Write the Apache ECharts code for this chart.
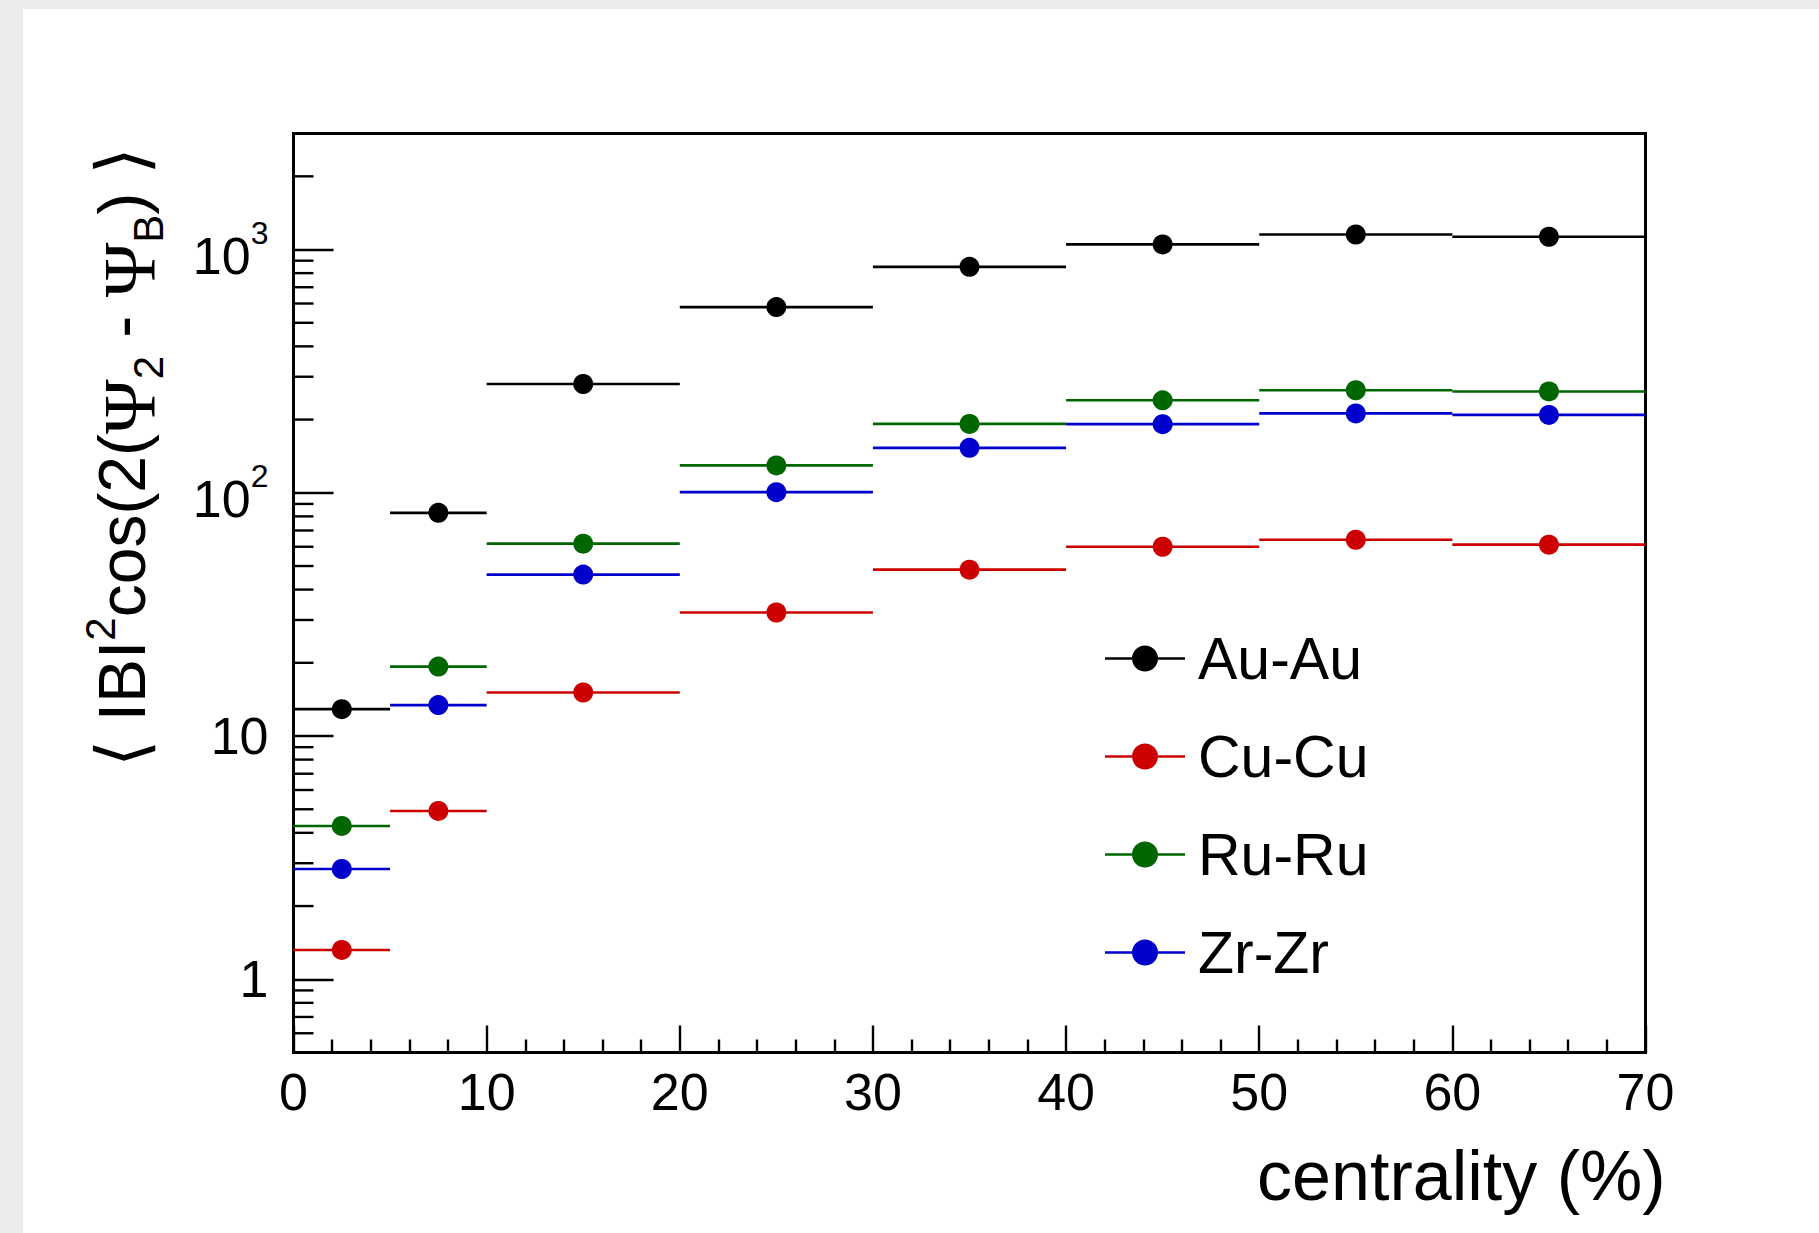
<!DOCTYPE html>
<html>
<head>
<meta charset="utf-8">
<script src="https://cdn.jsdelivr.net/npm/echarts@6/dist/echarts.min.js"></script>
<style>
html,body{margin:0;padding:0;background:#ffffff;}
#chart{width:1819px;height:1233px;}
</style>
</head>
<body>
<div id="chart"></div>
<script>
// ---- data ----
const binLow    = [0, 5, 10, 20, 30, 40, 50, 60];
const binHigh   = [5, 10, 20, 30, 40, 50, 60, 70];
const binCenter = [2.5, 7.5, 15, 25, 35, 45, 55, 65];
const auau = [12.9, 82.7, 280, 580, 849, 1050, 1153, 1129];
const cucu = [1.32, 4.92, 15.1, 32.2, 48.3, 60.0, 64.1, 61.2];
const ruru = [4.27, 19.3, 61.8, 129.6, 192, 240, 264, 261];
const zrzr = [2.84, 13.4, 46.1, 100.6, 153, 191.5, 212, 209];
const seriesNames  = ['Au-Au', 'Cu-Cu', 'Ru-Ru', 'Zr-Zr'];
const seriesValues = [auau, cucu, ruru, zrzr];
const seriesColors = ['#000000', '#cc0000', '#006600', '#0000cc'];
const yMinorTicks = [0.6, 0.7, 0.8, 0.9,
  2, 3, 4, 5, 6, 7, 8, 9,
  20, 30, 40, 50, 60, 70, 80, 90,
  200, 300, 400, 500, 600, 700, 800, 900,
  2000];

const FONT = 'Liberation Sans, Arial, Helvetica, sans-serif';

const chart = echarts.init(document.getElementById('chart'), null, {renderer: 'svg'});

function dataSeries(i) {
  const vals = seriesValues[i];
  const color = seriesColors[i];
  return {
    type: 'custom',
    name: seriesNames[i],
    itemStyle: {color: color},
    encode: {x: [0, 1, 2], y: 3},
    data: vals.map((v, k) => [binLow[k], binHigh[k], binCenter[k], v]),
    renderItem: function (params, api) {
      const y = api.value(3);
      const lo = api.coord([api.value(0), y]);
      const hi = api.coord([api.value(1), y]);
      const c = api.coord([api.value(2), y]);
      return {
        type: 'group',
        children: [
          {type: 'line', shape: {x1: lo[0], y1: lo[1], x2: hi[0], y2: hi[1]},
           style: {stroke: color, lineWidth: 2.6}},
          {type: 'circle', shape: {cx: c[0], cy: c[1], r: 10},
           style: {fill: color}}
        ]
      };
    }
  };
}

const minorTickSeries = {
  type: 'custom',
  name: 'yminor',
  silent: true,
  encode: {x: 0, y: 1},
  data: yMinorTicks.map(v => [0, v]),
  renderItem: function (params, api) {
    const p = api.coord([api.value(0), api.value(1)]);
    return {type: 'line', shape: {x1: p[0], y1: p[1], x2: p[0] + 20, y2: p[1]},
            style: {stroke: '#000', lineWidth: 2.4}};
  }
};

const legendIcon = 'path://M0 11.7H27V14.3H0Z M53 11.7H80V14.3H53Z M27 13A13 13 0 1 1 53 13A13 13 0 1 1 27 13Z';

const yTitle = '{br|⟨} {n|IBI}{sup|2}{n|cos(2(}{psi|Ψ}{sub|2}{n| - }{psi|Ψ}{sub|B}{n|)} {br|⟩}';

const option = {
  animation: false,
  backgroundColor: '#ffffff',
  textStyle: {fontFamily: FONT},
  grid: {
    left: 293.5, right: 173.5, top: 133.5, bottom: 180.5,
    show: true, borderColor: '#000', borderWidth: 3,
    containLabel: false, outerBoundsMode: 'none'
  },
  legend: {
    orient: 'vertical',
    left: 1100, top: 624,
    itemWidth: 80, itemHeight: 26, itemGap: 39,
    textStyle: {fontSize: 59, fontFamily: FONT, color: '#000', padding: [0, 0, 0, 8]},
    data: seriesNames.map(n => ({name: n, icon: legendIcon}))
  },
  xAxis: {
    type: 'value', min: 0, max: 70, interval: 10,
    name: 'centrality (%)', nameLocation: 'end', nameGap: 20,
    nameTextStyle: {fontSize: 70, fontFamily: FONT, color: '#000',
      align: 'right', verticalAlign: 'top', padding: [88, 0, 0, 0]},
    axisLine: {show: true, lineStyle: {color: '#000', width: 3}},
    axisTick: {show: true, inside: true, length: 27, lineStyle: {color: '#000', width: 2.4}},
    minorTick: {show: true, splitNumber: 5, length: 13, lineStyle: {color: '#000', width: 2.4}},
    axisLabel: {fontSize: 52, fontFamily: FONT, color: '#000', margin: 13},
    splitLine: {show: false}
  },
  yAxis: {
    type: 'log', logBase: 10, min: 0.5, max: 3000,
    axisLine: {show: true, lineStyle: {color: '#000', width: 3}},
    axisTick: {show: true, inside: true, length: 40, lineStyle: {color: '#000', width: 2.4}},
    minorTick: {show: false},
    splitLine: {show: false},
    axisLabel: {
      fontSize: 52, fontFamily: FONT, color: '#000', margin: 25,
      showMinLabel: false, showMaxLabel: false,
      formatter: function (v) {
        const l = Math.log10(v);
        const e = Math.round(l);
        if (Math.abs(l - e) > 1e-6) return '';
        if (e === 0) return '1';
        if (e === 1) return '10';
        return '{m|10}{s|' + e + '}';
      },
      rich: {
        m: {fontSize: 52, fontFamily: FONT, color: '#000', padding: [12, 0, 0, 0]},
        s: {fontSize: 32, fontFamily: FONT, color: '#000', padding: [0, 0, 34, 0]}
      }
    }
  },
  graphic: [
    {type: 'rect', shape: {x: 0, y: 0, width: 23, height: 1233}, style: {fill: '#ececec'}, silent: true},
    {type: 'rect', shape: {x: 0, y: 0, width: 1819, height: 9}, style: {fill: '#ececec'}, silent: true},
    {
      type: 'text', x: 122, y: 767, rotation: Math.PI / 2, silent: true,
      style: {
        text: yTitle, fill: '#000', fontSize: 66, fontFamily: FONT,
        align: 'left', verticalAlign: 'middle',
        rich: {
          n:   {fontSize: 66, fontFamily: FONT, fill: '#000'},
          br:  {fontSize: 70, fontFamily: 'DejaVu Sans', fill: '#000'},
          sup: {fontSize: 42, fontFamily: FONT, fill: '#000', padding: [0, 0, 43, 0]},
          sub: {fontSize: 42, fontFamily: FONT, fill: '#000', padding: [52, 0, 0, 0]},
          psi: {fontSize: 74, fontFamily: 'Liberation Serif, DejaVu Serif, serif', fill: '#000', padding: [16, 0, 0, 0]}
        }
      }
    }
  ],
  series: [dataSeries(0), dataSeries(1), dataSeries(2), dataSeries(3), minorTickSeries]
};

chart.setOption(option);
</script>
</body>
</html>
